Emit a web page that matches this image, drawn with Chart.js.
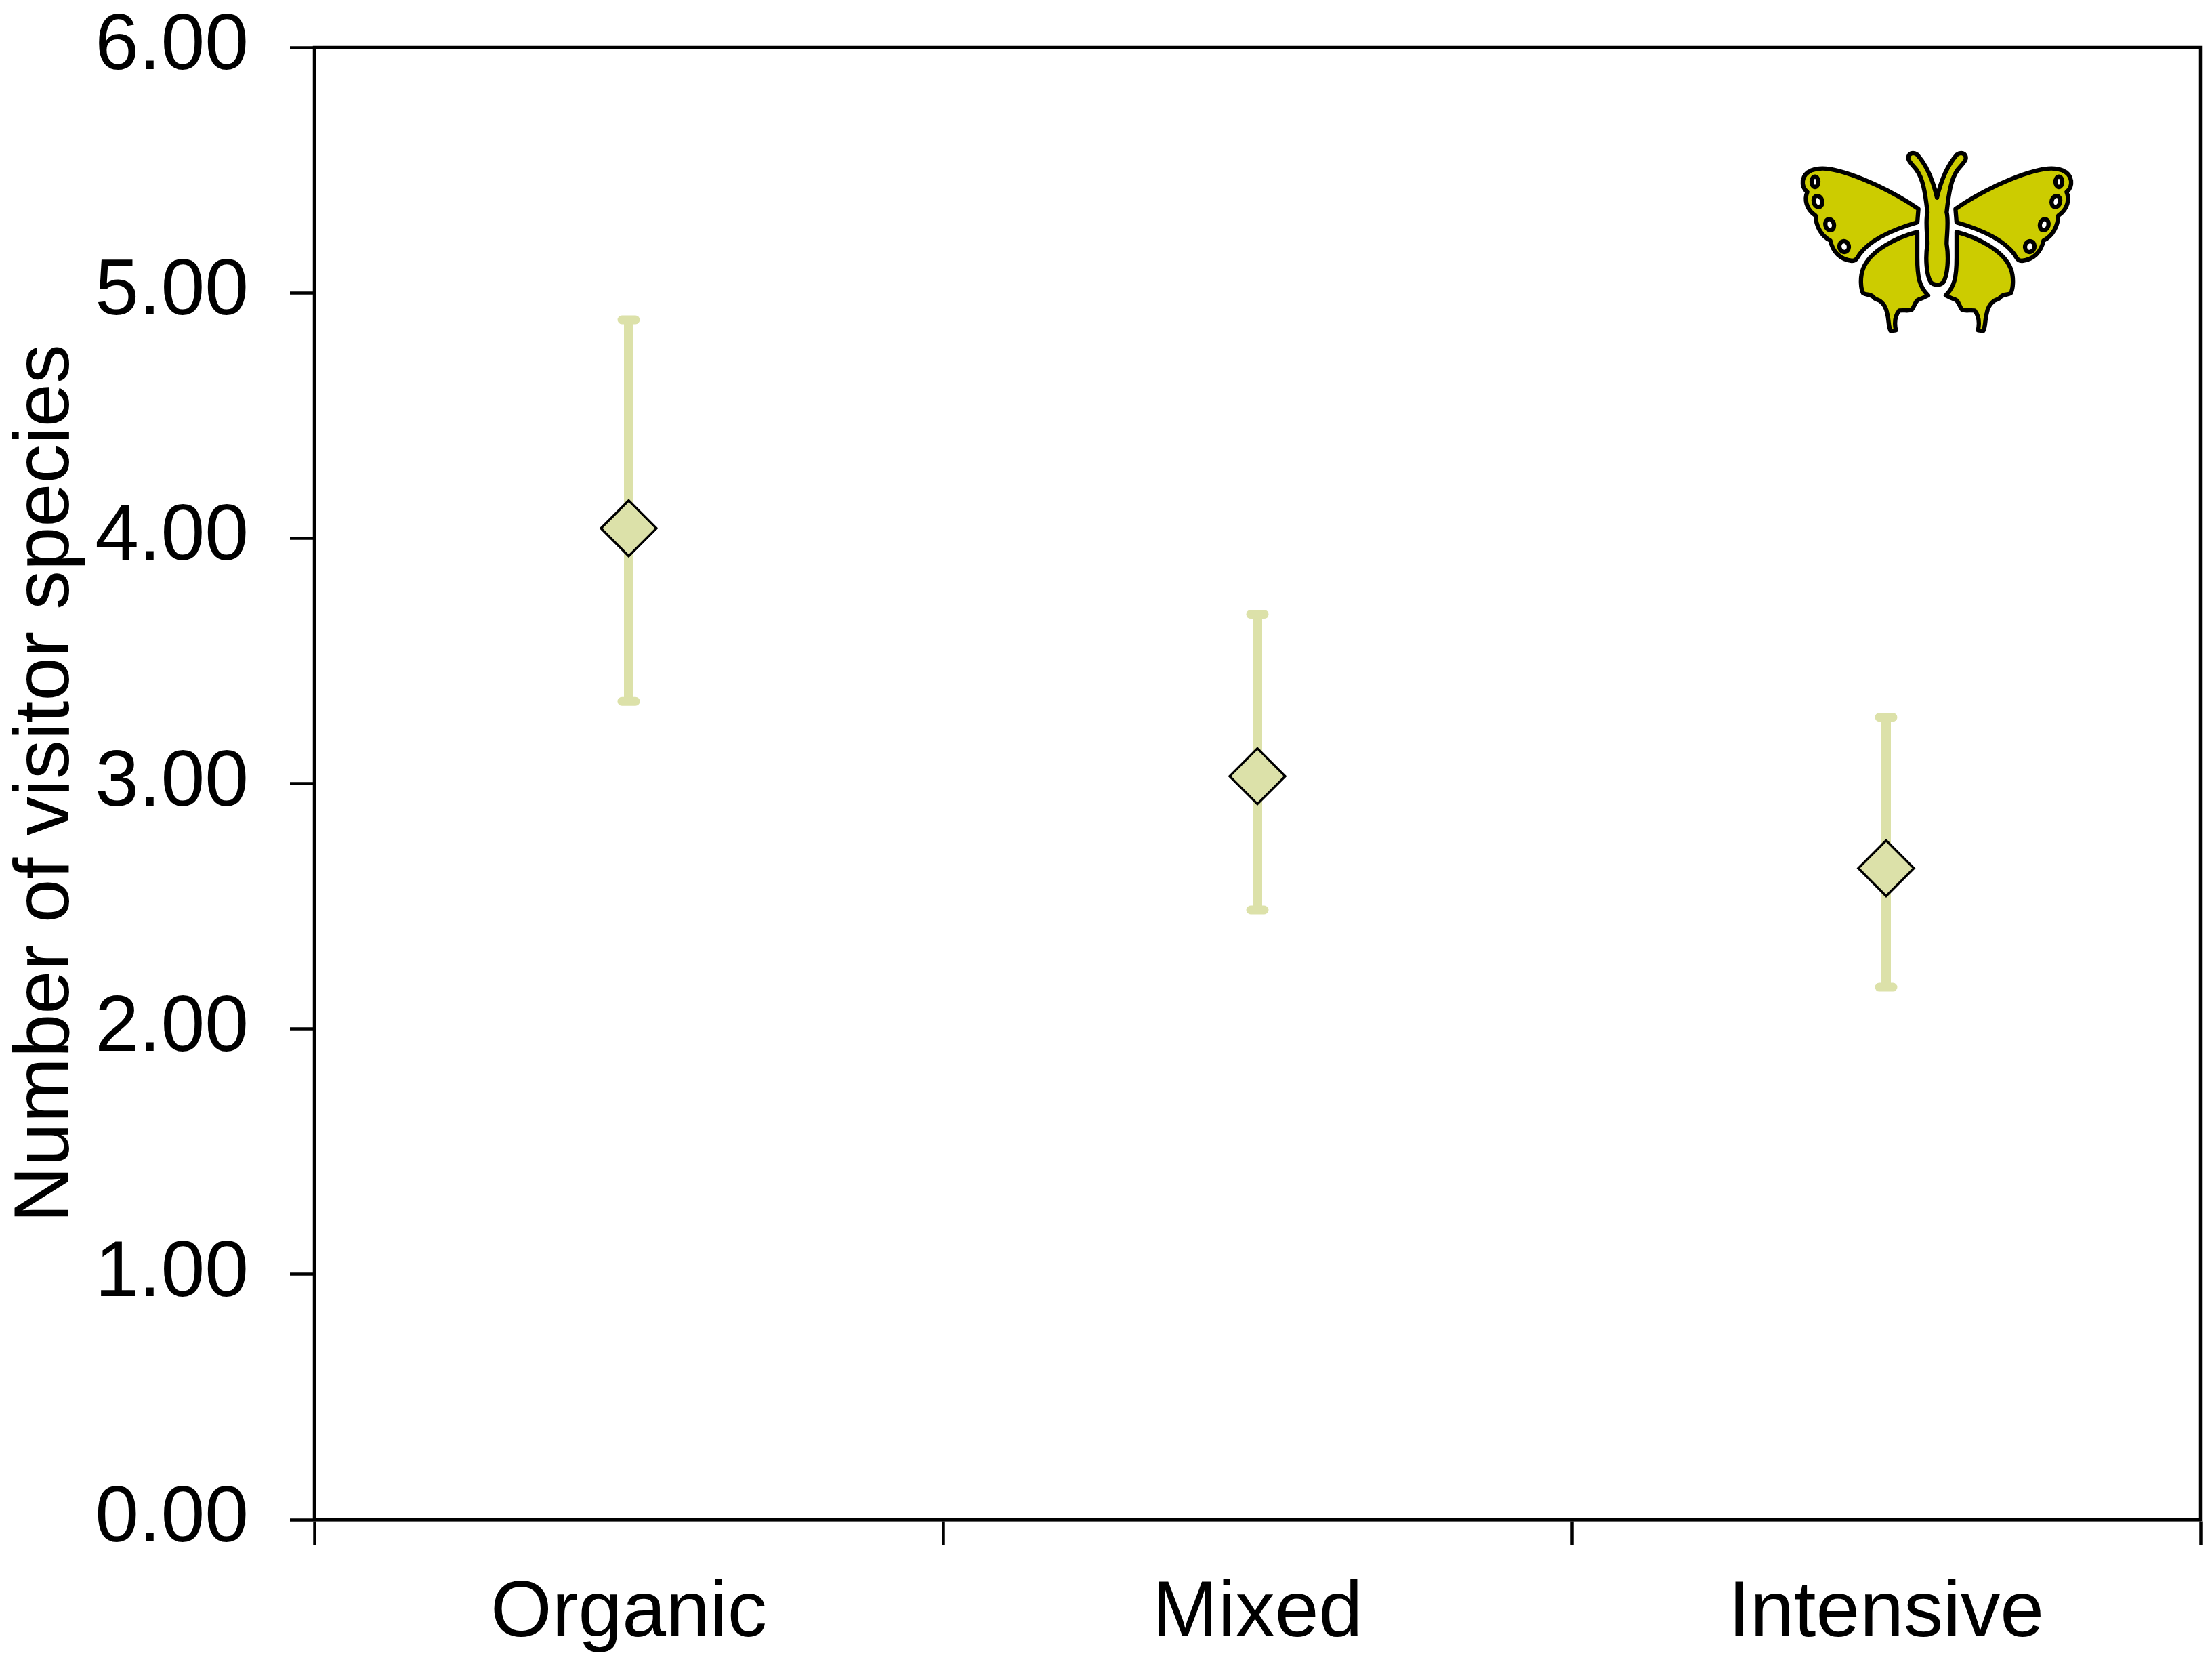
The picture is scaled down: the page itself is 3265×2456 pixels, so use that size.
<!DOCTYPE html>
<html lang="en">
<head>
    <meta charset="UTF-8">
    <title>Number of visitor species</title>
    <script src="https://cdn.jsdelivr.net/npm/chart.js"></script>
    <style>
        html, body { margin: 0; padding: 0; background: #fff; }
        #wrap { position: relative; width: 3265px; height: 2456px; overflow: hidden; }
        #chart { position: absolute; left: 0; top: 0; }
        #butterfly { position: absolute; left: 2600px; top: 180px; }
    </style>
</head>
<body>
    <div id="wrap">
        <canvas id="chart" width="3265" height="2456"></canvas>
        <!-- butterfly icon, top right of the plot -->
        <svg id="butterfly" width="520" height="340" viewBox="0 0 1560 1020">
            <defs>
                <g id="wings" fill="#CCCC00" stroke="#000" stroke-width="19" stroke-linejoin="round">
                    <path d="M695 385 C600 320 430 230 300 208 C240 200 190 215 183 260 C180 285 190 300 203 310 C190 340 195 385 240 415 C240 460 265 505 305 525 C315 575 350 610 400 615 C420 615 425 600 435 585 C480 525 570 480 690 445 Z"/>
                    <path d="M690 487 C600 510 480 570 450 650 C435 690 440 740 450 758 C465 768 480 760 495 775 C505 790 520 785 530 797 C545 810 552 825 556 845 C566 880 560 900 572 925 L595 922 C588 890 590 860 610 835 C630 832 650 838 665 832 C680 815 680 790 700 785 C715 780 725 775 738 768 C700 730 690 690 690 600 Z"/>
                    <g fill="#fff">
                        <ellipse cx="237" cy="265" rx="15" ry="23"/>
                        <ellipse cx="250" cy="352" rx="19" ry="25" transform="rotate(-15 250 352)"/>
                        <ellipse cx="302" cy="455" rx="19" ry="25" transform="rotate(-15 302 455)"/>
                        <ellipse cx="366" cy="552" rx="21" ry="24" transform="rotate(-15 366 552)"/>
                    </g>
                </g>
            </defs>
            <use href="#wings"/>
            <use href="#wings" transform="translate(1554,0) scale(-1,1)"/>
            <path fill="#CCCC00" stroke="#000" stroke-width="19" stroke-linejoin="round" d="M777 335 C760 260 730 190 690 145 C670 130 650 140 650 160 C650 175 670 190 685 210 C715 250 725 310 735 400 C725 440 735 500 735 540 C725 600 730 680 750 710 C765 725 790 725 805 710 C825 680 830 600 820 540 C820 500 830 440 820 400 C830 310 840 250 870 210 C885 190 905 175 905 160 C905 140 885 130 865 145 C825 190 795 260 777 335 Z"/>
        </svg>
    </div>

    <script>
        const categories = ['Organic', 'Mixed', 'Intensive'];
        const means = [4.04, 3.03, 2.655];
        const errorHigh = [4.89, 3.69, 3.27];
        const errorLow = [3.335, 2.485, 2.17];
        const yTickLabels = ['0.00', '1.00', '2.00', '3.00', '4.00', '5.00', '6.00'];

        const FONT = '"Liberation Sans", Arial, sans-serif';
        const FONT_SIZE = 116.5;
        const TITLE_SIZE = 115.5;
        const PALE = '#DCE1A9';
        const LINE = 4.5;

        // error bars and the box around the plot
        const errorBars = {
            id: 'errorBars',
            beforeDatasetsDraw(chart) {
                const { ctx, scales: { x, y } } = chart;
                ctx.save();
                ctx.strokeStyle = PALE;
                categories.forEach((c, i) => {
                    const px = x.getPixelForValue(i);
                    const top = y.getPixelForValue(errorHigh[i]);
                    const bot = y.getPixelForValue(errorLow[i]);
                    ctx.lineWidth = 14;
                    ctx.lineCap = 'butt';
                    ctx.beginPath();
                    ctx.moveTo(px, top);
                    ctx.lineTo(px, bot);
                    ctx.stroke();
                    ctx.lineWidth = 13;
                    ctx.lineCap = 'round';
                    [top, bot].forEach(py => {
                        ctx.beginPath();
                        ctx.moveTo(px - 10, py);
                        ctx.lineTo(px + 10, py);
                        ctx.stroke();
                    });
                });
                ctx.restore();
            },
            afterDraw(chart) {
                const { ctx, chartArea: a } = chart;
                ctx.save();
                ctx.strokeStyle = '#000';
                ctx.lineWidth = LINE;
                ctx.strokeRect(a.left, a.top, a.right - a.left, a.bottom - a.top);
                ctx.restore();
            }
        };

        new Chart(document.getElementById('chart'), {
            type: 'line',
            data: {
                labels: categories,
                datasets: [{
                    data: means,
                    showLine: false,
                    pointStyle: 'rectRot',
                    pointRadius: 41,
                    pointBackgroundColor: PALE,
                    pointBorderColor: '#000',
                    pointBorderWidth: 3.5
                }]
            },
            plugins: [errorBars],
            options: {
                responsive: false,
                animation: false,
                devicePixelRatio: 1,
                layout: { autoPadding: false, padding: { top: 70, right: 17, left: 0, bottom: 0 } },
                plugins: { legend: { display: false }, tooltip: { enabled: false } },
                scales: {
                    x: {
                        offset: true,
                        afterFit(s) { s.height = 213; s.paddingLeft = 0; s.paddingRight = 0; },
                        grid: {
                            offset: true,
                            drawOnChartArea: false,
                            tickLength: 37,
                            tickWidth: LINE,
                            tickColor: '#000'
                        },
                        border: { color: '#000', width: LINE },
                        ticks: {
                            color: '#000',
                            padding: 33,
                            maxRotation: 0,
                            font: { family: FONT, size: FONT_SIZE }
                        }
                    },
                    y: {
                        min: 0,
                        max: 6,
                        afterFit(s) { s.width = 464; s.paddingTop = 0; s.paddingBottom = 0; },
                        grid: {
                            drawOnChartArea: false,
                            tickLength: 36,
                            tickWidth: LINE,
                            tickColor: '#000'
                        },
                        border: { color: '#000', width: LINE },
                        ticks: {
                            stepSize: 1,
                            color: '#000',
                            padding: 61,
                            font: { family: FONT, size: FONT_SIZE },
                            callback: (v, i) => yTickLabels[i]
                        },
                        title: {
                            display: true,
                            text: 'Number of visitor species',
                            color: '#000',
                            padding: { top: 0, bottom: 0 },
                            font: { family: FONT, size: TITLE_SIZE }
                        }
                    }
                }
            }
        });
    </script>
</body>
</html>
